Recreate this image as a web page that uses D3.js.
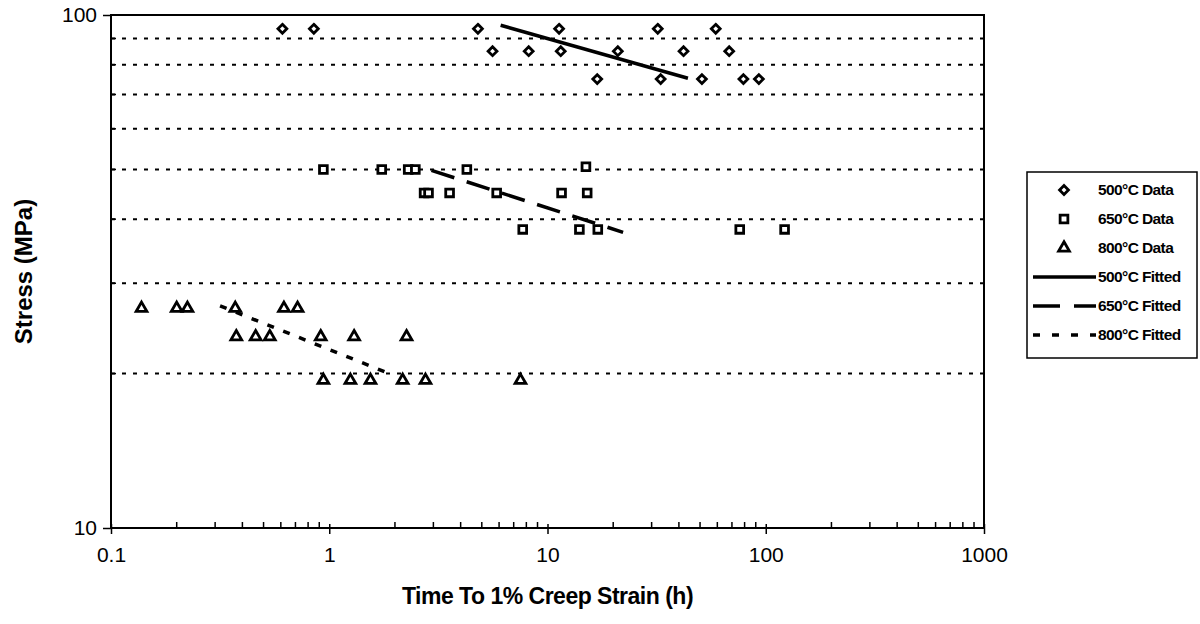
<!DOCTYPE html>
<html>
<head>
<meta charset="utf-8">
<script src="https://cdn.jsdelivr.net/npm/d3@7"></script>
<style>
  body { margin: 0; background: #fff; }
  svg { display: block; font-family: "Liberation Sans", Arial, sans-serif; }
</style>
</head>
<body>
<script>
// time to 1% creep strain (h) and stress (MPa)
const t500 = [0.61, 0.85, 4.8, 5.6, 8.2, 11.3, 11.5, 16.9, 21, 32, 33, 42, 51, 59, 68, 79, 93];
const s500 = [94, 94, 94, 85, 85, 94, 85, 75, 85, 94, 75, 85, 75, 94, 85, 75, 75];
const t650 = [0.94, 1.74, 2.3, 2.48, 4.27, 15, 2.72, 2.85, 3.56, 5.85, 11.6, 15.2, 7.7, 14, 17, 76, 122];
const s650 = [50, 50, 50, 50, 50, 50.6, 45, 45, 45, 45, 45, 45, 38.2, 38.2, 38.2, 38.2, 38.2];
const t800 = [0.138, 0.2, 0.224, 0.371, 0.62, 0.716, 0.375, 0.46, 0.534, 0.914, 1.3, 2.26, 0.94, 1.25, 1.545, 2.17, 2.76, 7.52];
const s800 = [26.8, 26.8, 26.8, 26.8, 26.8, 26.8, 23.6, 23.6, 23.6, 23.6, 23.6, 23.6, 19.4, 19.4, 19.4, 19.4, 19.4, 19.4];

// fitted lines: end points
const fit500 = [[6.1, 95.5], [44, 75.3]];
const fit650 = [[2.94, 49.8], [22.2, 37.7]];
const fit800 = [[0.316, 27.1], [1.83, 20.1]];

const xMajor = [0.1, 1, 10, 100, 1000];
const yMajor = [10, 100];
const legendLabels = ["500°C Data", "650°C Data", "800°C Data", "500°C Fitted", "650°C Fitted", "800°C Fitted"];

const W = 1200, H = 624;
const plotLeft = 111, plotRight = 984, plotTop = 15, plotBottom = 528;

const svg = d3.select("body").append("svg").attr("width", W).attr("height", H);

const x = d3.scaleLog().domain([0.1, 1000]).range([plotLeft, plotRight]);
const y = d3.scaleLog().domain([10, 100]).range([plotBottom, plotTop]);

// minor values for each decade
const xMinor = [];
xMajor.slice(0, -1).forEach(d => { for (let k = 2; k <= 9; k++) xMinor.push(d * k); });
const yMinor = d3.range(20, 100, 10);

// dotted gridlines
svg.append("g")
  .selectAll("line")
  .data(yMinor)
  .join("line")
  .attr("x1", plotLeft).attr("x2", plotRight)
  .attr("y1", d => y(d)).attr("y2", d => y(d))
  .attr("stroke", "#000")
  .attr("stroke-width", 2)
  .attr("stroke-dasharray", "4,7");

// axes
const xAxis = svg.append("g").attr("transform", `translate(0,${plotBottom})`);
xAxis.call(d3.axisBottom(x).tickValues(xMajor).tickSize(6).tickFormat(d => d3.format("~g")(d)));
xAxis.call(g => g.select(".domain").remove());
xAxis.selectAll(".tick text").attr("font-size", 21).attr("dy", "1.05em").attr("y", 12).attr("fill", "#000");
xAxis.selectAll(".tick line").attr("y1", -4).attr("stroke-width", 1.5);
xAxis.append("g")
  .selectAll("line")
  .data(xMinor)
  .join("line")
  .attr("x1", d => x(d)).attr("x2", d => x(d))
  .attr("y1", 0).attr("y2", -6)
  .attr("stroke", "#000").attr("stroke-width", 1.5);

const yAxis = svg.append("g").attr("transform", `translate(${plotLeft},0)`);
yAxis.call(d3.axisLeft(y).tickValues(yMajor).tickSize(8).tickFormat(d3.format("d")));
yAxis.call(g => g.select(".domain").remove());
yAxis.selectAll(".tick text").attr("font-size", 21).attr("x", -14).attr("fill", "#000");
yAxis.selectAll(".tick line").attr("stroke-width", 1.5);
yAxis.append("g")
  .selectAll("line")
  .data(yMinor)
  .join("line")
  .attr("x1", 0).attr("x2", 5)
  .attr("y1", d => y(d)).attr("y2", d => y(d))
  .attr("stroke", "#000").attr("stroke-width", 1.5);

// plot frame
svg.append("rect")
  .attr("x", plotLeft).attr("y", plotTop)
  .attr("width", plotRight - plotLeft).attr("height", plotBottom - plotTop)
  .attr("fill", "none").attr("stroke", "#000").attr("stroke-width", 2);

// fitted lines
const line = d3.line().x(d => x(d[0])).y(d => y(d[1]));
const fitStyles = [
  { data: fit500, dash: null },
  { data: fit650, dash: "24,13" },
  { data: fit800, dash: "7,10" }
];
svg.append("g")
  .selectAll("path")
  .data(fitStyles)
  .join("path")
  .attr("d", d => line(d.data))
  .attr("fill", "none")
  .attr("stroke", "#000")
  .attr("stroke-width", 3.5)
  .attr("stroke-dasharray", d => d.dash);

// data points
const groups = [
  { t: t500, s: s500, sym: d3.symbolDiamond2, size: 50 },
  { t: t650, s: s650, sym: d3.symbolSquare, size: 60 },
  { t: t800, s: s800, sym: d3.symbolTriangle, size: 50 }
];
groups.forEach(g => {
  svg.append("g")
    .selectAll("path")
    .data(g.t.map((t, i) => [t, g.s[i]]))
    .join("path")
    .attr("transform", d => `translate(${x(d[0])},${y(d[1])})`)
    .attr("d", d3.symbol(g.sym, g.size))
    .attr("fill", "#fff")
    .attr("stroke", "#000")
    .attr("stroke-width", 2.8);
});

// axis titles
svg.append("text")
  .attr("x", (plotLeft + plotRight) / 2).attr("y", 604)
  .attr("text-anchor", "middle")
  .attr("font-size", 23).attr("font-weight", "bold")
  .attr("letter-spacing", -0.5)
  .text("Time To 1% Creep Strain (h)");

svg.append("text")
  .attr("transform", `translate(32,${(plotTop + plotBottom) / 2}) rotate(-90)`)
  .attr("text-anchor", "middle")
  .attr("font-size", 24).attr("font-weight", "bold")
  .text("Stress (MPa)");

// legend
const lg = svg.append("g");
lg.append("rect")
  .attr("x", 1027).attr("y", 172).attr("width", 170).attr("height", 186)
  .attr("fill", "#fff").attr("stroke", "#000").attr("stroke-width", 1.5);

const rowY = i => 190 + i * 29;
legendLabels.forEach((label, i) => {
  const cy = rowY(i);
  if (i < 3) {
    lg.append("path")
      .attr("transform", `translate(1064,${cy})`)
      .attr("d", d3.symbol(groups[i].sym, groups[i].size))
      .attr("fill", "#fff").attr("stroke", "#000").attr("stroke-width", 2.8);
  } else {
    lg.append("line")
      .attr("x1", 1033).attr("x2", 1096)
      .attr("y1", cy).attr("y2", cy)
      .attr("stroke", "#000").attr("stroke-width", 3.5)
      .attr("stroke-dasharray", [null, "27,14", "7,12"][i - 3]);
  }
  lg.append("text")
    .attr("x", 1098).attr("y", cy)
    .attr("dy", "0.35em")
    .attr("font-size", 15.5).attr("font-weight", "bold")
    .attr("letter-spacing", -0.6)
    .text(label);
});
</script>
</body>
</html>
